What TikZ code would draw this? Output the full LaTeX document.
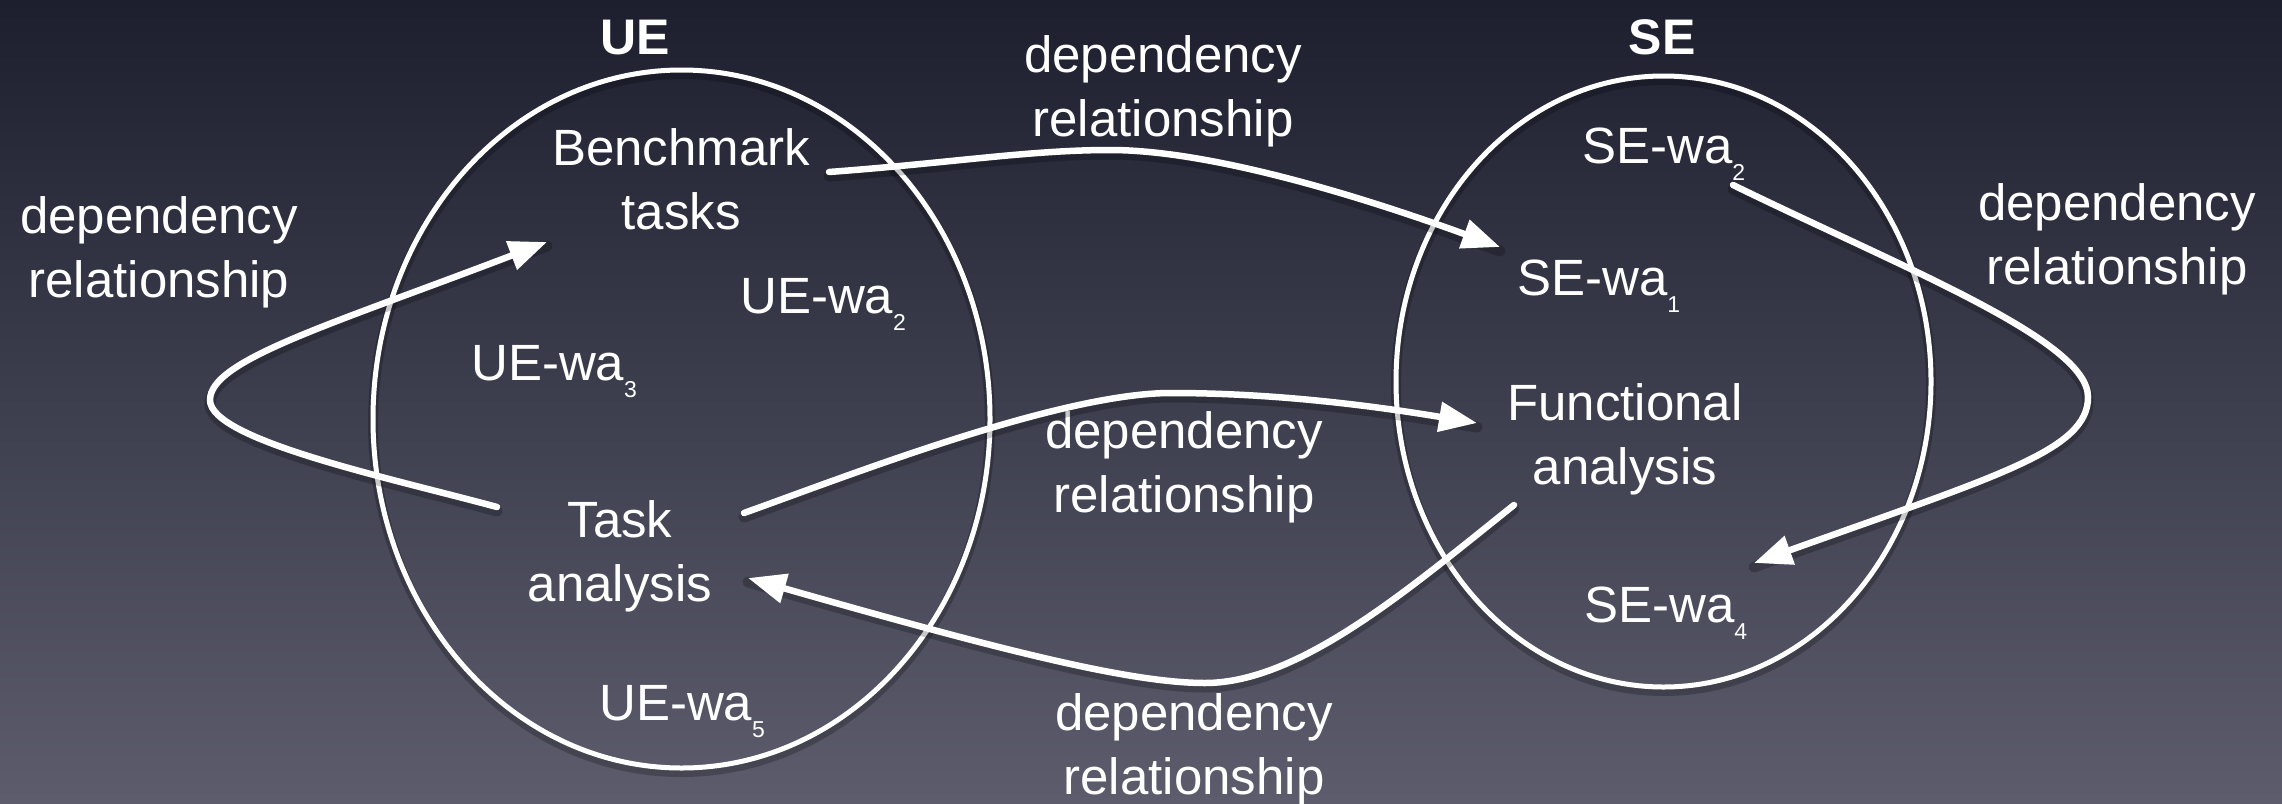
\documentclass[tikz,border=0pt]{standalone}
\usepackage{fontspec}
\setmainfont{Liberation Sans}
\usetikzlibrary{arrows.meta,shapes.geometric}
\definecolor{bgtop}{RGB}{29,31,47}
\definecolor{bgbot}{RGB}{92,92,108}
% two centred lines whose reference point is the first baseline
\newcommand{\twoline}[2]{\vtop{\halign{\hfil##\hfil\cr #1\cr #2\cr}}}
% small lowered index after "wa"
\newcommand{\wasub}[1]{\raisebox{-17pt}{\fontsize{23}{23}\selectfont #1}}

\begin{document}
\begin{tikzpicture}[x=1pt,y=-1pt,
  txt/.style={text=white, inner sep=0pt, font=\fontsize{51}{64}\selectfont},
  settitle/.style={text=white, inner sep=0pt, font=\fontsize{50}{60}\selectfont\bfseries},
  setring/.style={draw=white, line width=5pt, ellipse, inner sep=0pt},
  softshade/.style={draw=black, draw opacity=0.22, line width=11pt, line cap=round},
  conn/.style={draw=white, line width=6.5pt, line cap=round,
    -{Triangle[length=38pt,width=29pt]},
    preaction={softshade, -, transform canvas={yshift=-4pt}}},
]
% background
\shade[top color=bgtop, bottom color=bgbot] (0,0) rectangle (2282,803);
\path[use as bounding box] (0,0) rectangle (2282,803);

% soft shadows under the set outlines
\draw[softshade, line width=10pt] (681.5,423) ellipse [x radius=308.5pt, y radius=349pt];
\draw[softshade, line width=10pt] (1663.5,385.5) ellipse [x radius=267.5pt, y radius=305.5pt];

% the two sets
\node[setring, minimum width=617pt, minimum height=698pt] (ue) at (681.5,419) {};
\node[setring, minimum width=535pt, minimum height=611pt] (se) at (1663.5,381.5) {};

\node[settitle, anchor=base] (uet) at (635,54) {UE};
\node[settitle, anchor=base] (set) at (1662,54) {SE};

% items in UE
\node[txt, anchor=base] (bench) at (681,165) {\twoline{Benchmark}{tasks}};
\node[txt, anchor=base west] (uewa2) at (740,313) {UE-wa\wasub{2}};
\node[txt, anchor=base west] (uewa3) at (471,380) {UE-wa\wasub{3}};
\node[txt, anchor=base] (task) at (620,537) {\twoline{Task}{analysis}};
\node[txt, anchor=base west] (uewa5) at (599,720) {UE-wa\wasub{5}};

% items in SE
\node[txt, anchor=base west] (sewa2) at (1582,163) {SE-wa\wasub{2}};
\node[txt, anchor=base west] (sewa1) at (1517,295) {SE-wa\wasub{1}};
\node[txt, anchor=base] (func) at (1625,420) {\twoline{Functional}{analysis}};
\node[txt, anchor=base west] (sewa4) at (1584,622) {SE-wa\wasub{4}};

% relation labels
\node[txt, anchor=base] (ltop) at (1163,72) {\twoline{dependency}{relationship}};
\node[txt, anchor=base] (lleft) at (159,233) {\twoline{dependency}{relationship}};
\node[txt, anchor=base] (lright) at (2117,220) {\twoline{dependency}{relationship}};
\node[txt, anchor=base] (lmid) at (1184,448) {\twoline{dependency}{relationship}};
\node[txt, anchor=base] (lbot) at (1194,730) {\twoline{dependency}{relationship}};

% connector ends
\coordinate (bench-out) at (829,172);
\coordinate (sewa1-in) at (1500,247);
\coordinate (task-out) at (744,513);
\coordinate (func-in) at (1477,423);
\coordinate (func-out) at (1514,505);
\coordinate (task-in) at (748,578);
\coordinate (sewa2-out) at (1733,185);
\coordinate (sewa4-in) at (1754,563);
\coordinate (task-out2) at (497,507);
\coordinate (bench-in) at (547,242);

% Benchmark tasks -> SE-wa1
\draw[conn] (bench-out) .. controls (950,163) and (1030,150) .. (1110,150)
  .. controls (1210,150) and (1360,196) .. (sewa1-in);
% Task analysis -> Functional analysis
\draw[conn] (task-out) .. controls (850,475) and (1060,393) .. (1171,393)
  .. controls (1280,393) and (1380,407) .. (func-in);
% Functional analysis -> Task analysis
\draw[conn] (func-out) .. controls (1410,588) and (1300,683) .. (1205,683)
  .. controls (1130,683) and (1000,650) .. (task-in);
% SE-wa2 -> SE-wa4
\draw[conn] (sewa2-out) .. controls (1903,268) and (2088,340) .. (2088,397)
  .. controls (2088,450) and (2000,475) .. (sewa4-in);
% Task analysis -> Benchmark tasks
\draw[conn] (task-out2) .. controls (390,478) and (210,440) .. (210,400)
  .. controls (210,360) and (330,325) .. (bench-in);
\end{tikzpicture}
\end{document}
